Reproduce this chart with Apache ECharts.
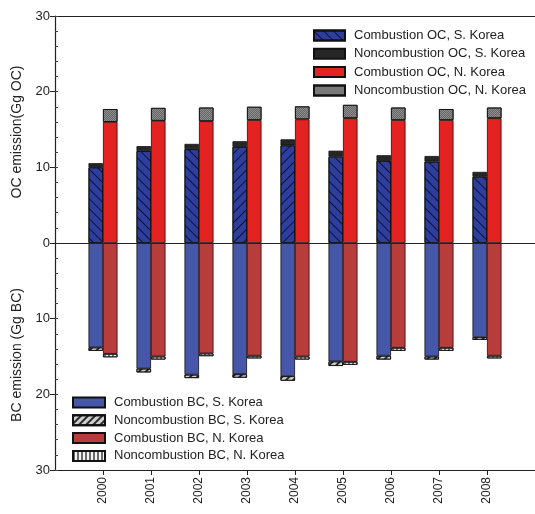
<!DOCTYPE html>
<html><head><meta charset="utf-8">
<script src="https://cdn.jsdelivr.net/npm/echarts@6/dist/echarts.min.js"></script>
<style>html,body{margin:0;padding:0;background:#fff}#c{width:535px;height:514px}</style>
</head><body><div id="c"></div>
<script>
const years = [2000, 2001, 2002, 2003, 2004, 2005, 2006, 2007, 2008];
const axisYears = [1999, 2000, 2001, 2002, 2003, 2004, 2005, 2006, 2007, 2008, 2009];
const ocCombSK = [10.0, 12.15, 12.4, 12.7, 12.9, 11.4, 10.85, 10.75, 8.75];
const ocNonSK  = [0.55, 0.65, 0.7, 0.75, 0.8, 0.8, 0.75, 0.75, 0.65];
const ocCombNK = [16.0, 16.15, 16.1, 16.25, 16.35, 16.5, 16.25, 16.25, 16.5];
const ocNonNK  = [1.7, 1.7, 1.8, 1.75, 1.7, 1.75, 1.65, 1.45, 1.4];
const bcCombSK = [13.8, 16.6, 17.4, 17.35, 17.6, 15.65, 14.9, 15.0, 12.45];
const bcNonSK  = [0.45, 0.5, 0.45, 0.45, 0.6, 0.6, 0.5, 0.4, 0.35];
const bcCombNK = [14.65, 15.0, 14.6, 14.9, 15.0, 15.7, 13.85, 13.85, 14.9];
const bcNonNK  = [0.45, 0.4, 0.35, 0.35, 0.4, 0.4, 0.4, 0.4, 0.35];
const backslashYears = [2003, 2004];
const yTicks = [-30, -20, -10, 0, 10, 20, 30];

const hatchFwd = {symbol:'rect', symbolSize:1, dashArrayX:[1,0], dashArrayY:[1,5.5], rotation:Math.PI/4, color:'rgba(0,0,0,0.7)'};
const hatchBack = {symbol:'rect', symbolSize:1, dashArrayX:[1,0], dashArrayY:[1,5.5], rotation:-Math.PI/4, color:'rgba(0,0,0,0.7)'};
const hatchBackFine = {symbol:'rect', symbolSize:1, dashArrayX:[1,0], dashArrayY:[1.2,2.3], rotation:-Math.PI/4, color:'rgba(0,0,0,0.8)'};
const vertLines = {symbol:'rect', symbolSize:1, dashArrayX:[1.2,1.8], dashArrayY:[4,0], rotation:0, color:'rgba(90,90,90,0.9)'};
const checker = {symbol:'rect', symbolSize:1, dashArrayX:[[1,1],[0,1,1,0]], dashArrayY:[1,0], color:'rgba(60,60,60,0.5)'};

const border = {borderColor:'#111', borderWidth:0.8};
const pos = a => years.map((y,i)=>[String(y), a[i]]);
const neg = a => years.map((y,i)=>[String(y), -a[i]]);

const ocCombSKData = years.map((y,i)=>{
  const it = {value:[String(y), ocCombSK[i]]};
  if (backslashYears.includes(y)) it.itemStyle = {decal: hatchBack};
  return it;
});

const BW = 14.5;
const series = [
  {name:'Combustion OC, S. Korea', type:'bar', stack:'S', barWidth:BW, barGap:'0%', data:ocCombSKData,
   itemStyle:Object.assign({color:'#2d3e9e', decal:hatchFwd}, border),
   markLine:{silent:true, symbol:'none', label:{show:false}, lineStyle:{color:'#222', width:1, type:'solid'}, data:[{yAxis:0}], animation:false}},
  {name:'Noncombustion OC, S. Korea', type:'bar', stack:'S', barWidth:BW, barGap:'0%', data:pos(ocNonSK),
   itemStyle:Object.assign({color:'#262626'}, border)},
  {name:'Combustion BC, S. Korea', type:'bar', stack:'S', barWidth:BW, barGap:'0%', data:neg(bcCombSK),
   itemStyle:Object.assign({color:'#4656a8'}, border)},
  {name:'Noncombustion BC, S. Korea', type:'bar', stack:'S', barWidth:BW, barGap:'0%', data:neg(bcNonSK),
   itemStyle:Object.assign({color:'#cfcfcf', decal:hatchBackFine}, border)},
  {name:'Combustion OC, N. Korea', type:'bar', stack:'N', barWidth:BW, barGap:'0%', data:pos(ocCombNK),
   itemStyle:Object.assign({color:'#e32222'}, border)},
  {name:'Noncombustion OC, N. Korea', type:'bar', stack:'N', barWidth:BW, barGap:'0%', data:pos(ocNonNK),
   itemStyle:Object.assign({color:'#8e8e8e', decal:checker}, border)},
  {name:'Combustion BC, N. Korea', type:'bar', stack:'N', barWidth:BW, barGap:'0%', data:neg(bcCombNK),
   itemStyle:Object.assign({color:'#b93c3c'}, border)},
  {name:'Noncombustion BC, N. Korea', type:'bar', stack:'N', barWidth:BW, barGap:'0%', data:neg(bcNonNK),
   itemStyle:Object.assign({color:'#f4f4f4', decal:vertLines}, border)}
];

const inRange = v => Number(v)>=years[0] && Number(v)<=years[years.length-1];
const font = 'Liberation Sans, Arial, sans-serif';
const chart = echarts.init(document.getElementById('c'), null, {renderer:'canvas'});
chart.setOption({
  animation:false,
  textStyle:{fontFamily:font},
  grid:{left:55, right:-2, top:16, bottom:44, containLabel:false},
  xAxis:[
    {type:'category', position:'bottom', boundaryGap:false, data:axisYears.map(String),
     axisLine:{onZero:false, lineStyle:{color:'#222', width:1.2}},
     axisTick:{show:true, length:5, lineStyle:{color:'#222'}, interval:(i,v)=>inRange(v)},
     axisLabel:{rotate:90, fontSize:12, color:'#222', fontFamily:font, margin:7,
       interval:0, formatter: v => inRange(v) ? String(v) : ''},
     splitLine:{show:false}},
    {type:'category', position:'top', boundaryGap:false, data:axisYears.map(String),
     axisLine:{show:true, onZero:false, lineStyle:{color:'#222', width:1.2}},
     axisTick:{show:false}, axisLabel:{show:false}, splitLine:{show:false}}
  ],
  yAxis:[
    {type:'value', min:yTicks[0], max:yTicks[yTicks.length-1], interval:10,
     axisLine:{show:true, onZero:false, lineStyle:{color:'#222', width:1.2}},
     axisTick:{show:true, length:5, lineStyle:{color:'#222'}},
     axisLabel:{fontSize:13, color:'#222', fontFamily:font, margin:5, formatter:v=>String(Math.abs(v))},
     splitLine:{show:false}},
    {type:'value', min:yTicks[0], max:yTicks[yTicks.length-1], interval:2, position:'left',
     axisLine:{show:false}, axisTick:{show:true, inside:true, length:3, lineStyle:{color:'#444'}},
     axisLabel:{show:false}, splitLine:{show:false}}
  ],
  legend:[
    {orient:'vertical', left:308, top:24, itemWidth:31, itemHeight:10, itemGap:5.3,
     icon:'rect', textStyle:{fontSize:13, color:'#222', fontFamily:font, padding:[0,0,0,4]},
     selectedMode:false,
     data:['Combustion OC, S. Korea','Noncombustion OC, S. Korea','Combustion OC, N. Korea','Noncombustion OC, N. Korea']},
    {orient:'vertical', left:67, top:391, itemWidth:32, itemHeight:10, itemGap:4.8,
     icon:'rect', textStyle:{fontSize:13, color:'#222', fontFamily:font, padding:[0,0,0,4]},
     selectedMode:false,
     data:['Combustion BC, S. Korea','Noncombustion BC, S. Korea','Combustion BC, N. Korea','Noncombustion BC, N. Korea']}
  ],
  graphic:[
    {type:'text', x:17, y:132, rotation:Math.PI/2, style:{text:'OC emission(Gg OC)', font:'14px '+font, fill:'#222', textAlign:'center', textVerticalAlign:'middle'}},
    {type:'text', x:17, y:355, rotation:Math.PI/2, style:{text:'BC emission (Gg BC)', font:'14px '+font, fill:'#222', textAlign:'center', textVerticalAlign:'middle'}}
  ],
  series: series
});
</script></body></html>
